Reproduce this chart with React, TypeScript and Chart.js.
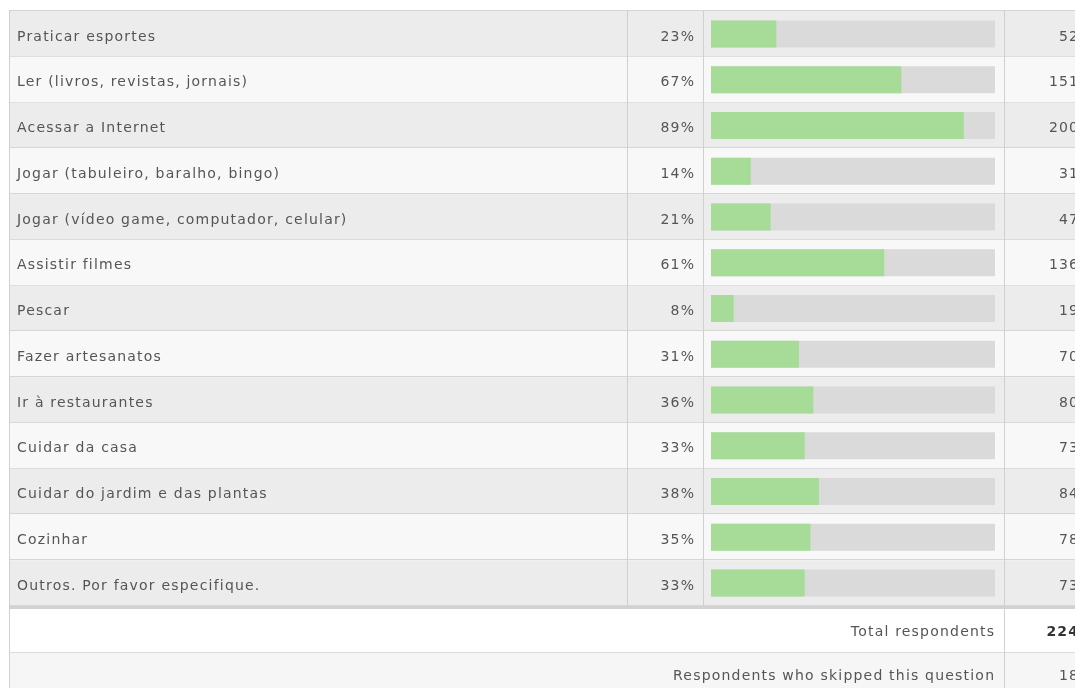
import React, { useEffect, useRef } from "react";
import { Chart, registerables } from "chart.js";

Chart.register(...registerables);

const categories = [
  "Praticar esportes",
  "Ler (livros, revistas, jornais)",
  "Acessar a Internet",
  "Jogar (tabuleiro, baralho, bingo)",
  "Jogar (vídeo game, computador, celular)",
  "Assistir filmes",
  "Pescar",
  "Fazer artesanatos",
  "Ir à restaurantes",
  "Cuidar da casa",
  "Cuidar do jardim e das plantas",
  "Cozinhar",
  "Outros. Por favor especifique.",
];
const percents = [23, 67, 89, 14, 21, 61, 8, 31, 36, 33, 38, 35, 33];
const counts = [52, 151, 200, 31, 47, 136, 19, 70, 80, 73, 84, 78, 73];
const trackValues = [100, 100, 100, 100, 100, 100, 100, 100, 100, 100, 100, 100, 100];
const footerLabels = ["Total respondents", "Respondents who skipped this question"];
const footerValues = [224, 18];

const FONT = '14px "DejaVu Sans", Verdana, sans-serif';
const BOLD = 'bold 14px "DejaVu Sans", Verdana, sans-serif';
const LS = 1.2;

const tablePlugin = {
  id: "surveyTable",
  beforeDatasetsDraw(chart: any) {
    const ctx = chart.ctx as any;
    const y = chart.scales.y;
    const area = chart.chartArea;
    const W = chart.width;
    const H = chart.height;
    const n = categories.length;
    const band = (area.bottom - area.top) / n;
    const left = 9;
    const colLabelEnd = 627;
    const colPctEnd = 703;
    const colBarEnd = 1004;
    ctx.save();
    ctx.letterSpacing = LS + "px";
    // rows
    for (let i = 0; i < n; i++) {
      const cy = y.getPixelForValue(i);
      const top = cy - band / 2;
      ctx.fillStyle = i % 2 === 0 ? "#ececec" : "#f8f8f8";
      ctx.fillRect(left, top, W - left, band);
      ctx.fillStyle = "#d6d6d6";
      ctx.fillRect(left, Math.round(top + band) - 1, W - left, 1);
      ctx.fillStyle = "#555555";
      ctx.font = FONT;
      ctx.textBaseline = "middle";
      ctx.textAlign = "left";
      ctx.fillText(categories[i], 17, cy + 3);
      ctx.textAlign = "right";
      ctx.fillText(percents[i] + "%", 694 + LS, cy + 3);
      ctx.fillText(String(counts[i]), 1078 + LS, cy + 3);
    }
    // top border
    ctx.fillStyle = "#d4d4d4";
    ctx.fillRect(left, area.top - 1, W - left, 1);
    // thick separator
    ctx.fillStyle = "#d2d2d2";
    ctx.fillRect(left, area.bottom, W - left, 3);
    // footer
    const fTop = area.bottom + 3;
    const fH = 43;
    for (let j = 0; j < footerLabels.length; j++) {
      const t = fTop + j * (fH + 1);
      ctx.fillStyle = j === 0 ? "#ffffff" : "#f6f6f6";
      ctx.fillRect(left, t, W - left, fH + (j === footerLabels.length - 1 ? 40 : 0));
      if (j < footerLabels.length - 1) {
        ctx.fillStyle = "#dcdcdc";
        ctx.fillRect(left, t + fH, W - left, 1);
      }
      const cy = t + fH / 2;
      ctx.fillStyle = "#555555";
      ctx.font = FONT;
      ctx.textAlign = "right";
      ctx.fillText(footerLabels[j], 994 + LS, cy + 1.5);
      ctx.font = j === 0 ? BOLD : FONT;
      ctx.fillStyle = j === 0 ? "#333333" : "#555555";
      ctx.fillText(String(footerValues[j]), 1078 + LS, cy + 1.5);
    }
    // vertical lines
    ctx.fillStyle = "#d0d0d0";
    ctx.fillRect(left, area.top - 1, 1, H - area.top + 1);
    ctx.fillRect(colLabelEnd, area.top, 1, area.bottom - area.top);
    ctx.fillRect(colPctEnd, area.top, 1, area.bottom - area.top);
    ctx.fillRect(colBarEnd, area.top, 1, H - area.top);
    ctx.restore();
  },
};

export default function App() {
  const ref = useRef<HTMLCanvasElement | null>(null);
  useEffect(() => {
    if (!ref.current) return;
    const chart = new Chart(ref.current, {
      type: "bar",
      data: {
        labels: categories,
        datasets: [
          {
            label: "Percent",
            data: percents,
            backgroundColor: "#a6dc98",
            grouped: false,
            order: 0,
            barPercentage: 0.59,
            categoryPercentage: 1,
          } as any,
          {
            label: "Track",
            data: trackValues,
            backgroundColor: "#dadada",
            grouped: false,
            order: 1,
            barPercentage: 0.59,
            categoryPercentage: 1,
          } as any,
        ],
      },
      options: {
        indexAxis: "y",
        animation: false,
        responsive: false,
        maintainAspectRatio: false,
        layout: { padding: { left: 711, right: 80, top: 11, bottom: 82 } },
        plugins: { legend: { display: false }, tooltip: { enabled: false } },
        scales: {
          x: { min: 0, max: 100, display: false },
          y: { display: false },
        },
      },
      plugins: [tablePlugin],
    });
    return () => chart.destroy();
  }, []);
  return (
    <div style={{ position: "fixed", left: 0, top: 0, width: 1075, height: 688, background: "#fff" }}>
      <canvas ref={ref} width={1075} height={688} style={{ width: 1075, height: 688, display: "block" }} />
    </div>
  );
}
